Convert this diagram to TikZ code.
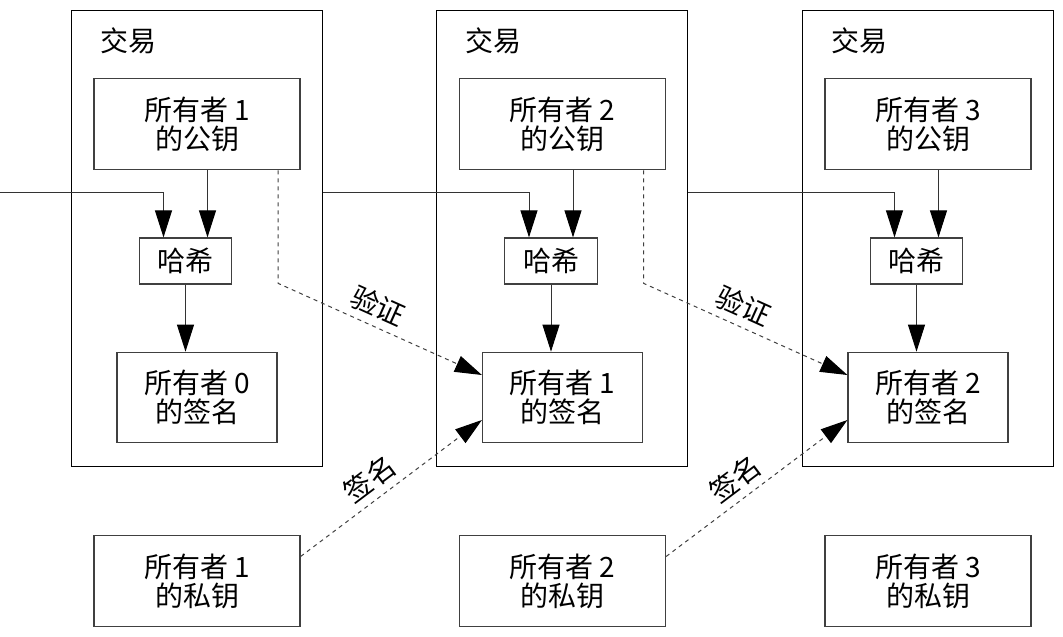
\documentclass[tikz,border=0pt]{standalone}
\usepackage{fontspec}
\setmainfont{Noto Sans CJK SC}
\usetikzlibrary{arrows.meta,calc}
\begin{document}
\begin{tikzpicture}[x=1pt,y=-1pt,
  txbox/.style={draw=black,line width=1pt,minimum width=251pt,minimum height=456pt,inner sep=0pt},
  keybox/.style={draw=black!75,line width=1.2pt,minimum width=206pt,minimum height=91.5pt,inner sep=0pt,align=center,font=\fontsize{28}{29}\selectfont},
  sigbox/.style={keybox,minimum width=160pt,minimum height=90.5pt},
  hashbox/.style={keybox,minimum width=92.5pt,minimum height=46pt},
  lbl/.style={font=\fontsize{28}{29}\selectfont,inner sep=2pt},
  arr/.style={draw=black!80,line width=1pt,-{Triangle[length=27pt,width=17pt,color=black]}},
  darr/.style={arr,dash pattern=on 4pt off 4pt,draw=black!75}
]
\useasboundingbox (0,0) rectangle (1063,637);

% column 1
\node[txbox] (tx1) at (196.5,238) {};
\node[lbl,anchor=west] (t1) at (98,41) {交易};
\node[keybox] (pub1) at (197,124) {所有者 1\\的公钥};
\node[hashbox] (hash1) at (185.5,261) {哈希};
\node[sigbox] (sig1) at (197,397.5) {所有者 0\\的签名};
\node[keybox] (priv1) at (197,581) {所有者 1\\的私钥};

% column 2
\node[txbox] (tx2) at (562,238) {};
\node[lbl,anchor=west] (t2) at (463.5,41) {交易};
\node[keybox] (pub2) at (562.5,124) {所有者 2\\的公钥};
\node[hashbox] (hash2) at (551,261) {哈希};
\node[sigbox] (sig2) at (562.5,397.5) {所有者 1\\的签名};
\node[keybox] (priv2) at (562.5,581) {所有者 2\\的私钥};

% column 3
\node[txbox] (tx3) at (927.5,238) {};
\node[lbl,anchor=west] (t3) at (829,41) {交易};
\node[keybox] (pub3) at (928,124) {所有者 3\\的公钥};
\node[hashbox] (hash3) at (916.5,261) {哈希};
\node[sigbox] (sig3) at (928,397.5) {所有者 2\\的签名};
\node[keybox] (priv3) at (928,581) {所有者 3\\的私钥};

% hash inputs
\coordinate (in0) at (0,192);
\foreach \i in {1,2,3}{
  \coordinate (h\i l) at ($(hash\i.north)+(-22,0)$);
  \coordinate (h\i r) at ($(hash\i.north)+(22,0)$);
  \draw[arr] (pub\i.south -| h\i r) -- (h\i r);
  \draw[arr] (hash\i.south) -- (hash\i.south |- sig\i.north);
}
\draw[arr] (in0) -| (h1l);
\draw[arr] (tx1.east |- in0) -| (h2l);
\draw[arr] (tx2.east |- in0) -| (h3l);

% verify
\coordinate (v1) at ($(pub1.south east)+(-22.5,0)$);
\coordinate (v2) at ($(pub2.south east)+(-22.5,0)$);
\draw[darr] (v1) -- ++(0,113) -- node[pos=0.45,sloped,above=5pt,lbl]{验证} ($(sig2.west)+(0,-22.5)$);
\draw[darr] (v2) -- ++(0,113) -- node[pos=0.45,sloped,above=5pt,lbl]{验证} ($(sig3.west)+(0,-22.5)$);

% sign
\draw[darr] ($(priv1.east)+(0,-24.5)$) -- node[pos=0.45,sloped,above=5pt,lbl]{签名} ($(sig2.west)+(0,22.5)$);
\draw[darr] ($(priv2.east)+(0,-24.5)$) -- node[pos=0.45,sloped,above=5pt,lbl]{签名} ($(sig3.west)+(0,22.5)$);
\end{tikzpicture}
\end{document}
